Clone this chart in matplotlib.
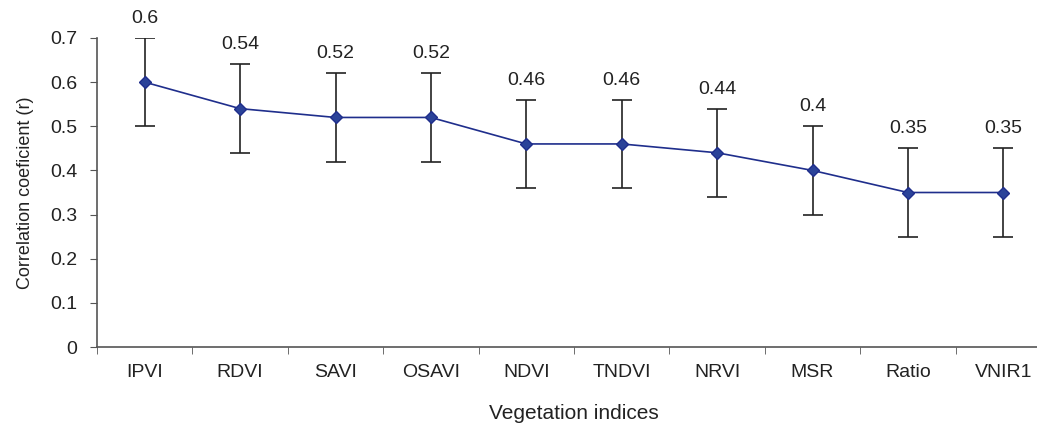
import matplotlib

matplotlib.use("Agg", force=True)
import matplotlib.pyplot as plt
import numpy as np

plt.rcParams["font.family"] = ["Liberation Sans", "DejaVu Sans"]

indices = ["IPVI", "RDVI", "SAVI", "OSAVI", "NDVI", "TNDVI", "NRVI", "MSR", "Ratio", "VNIR1"]
r_values = [0.6, 0.54, 0.52, 0.52, 0.46, 0.46, 0.44, 0.4, 0.35, 0.35]
r_errors = [0.1, 0.1, 0.1, 0.1, 0.1, 0.1, 0.1, 0.1, 0.1, 0.1]
value_labels = ["0.6", "0.54", "0.52", "0.52", "0.46", "0.46", "0.44", "0.4", "0.35", "0.35"]

fig = plt.figure(figsize=(10.37, 4.25), dpi=100)
ax = fig.add_axes([97 / 1037, 1 - 347 / 425, (1051 - 97) / 1037, (347 - 38) / 425])

x = np.arange(len(indices))
ax.errorbar(x, r_values, yerr=r_errors, fmt="none", ecolor="#222222", elinewidth=1.2,
            capsize=7, capthick=1.2, zorder=2)
ax.plot(x, r_values, color="#1F2E8C", lw=1.2, marker="D", markersize=6.5,
        markerfacecolor="#2B4399", markeredgecolor="#1F2E8C", zorder=3)

for xi, v, e, lab in zip(x, r_values, r_errors, value_labels):
    ax.annotate(lab, (xi, v + e), xytext=(0, 8), textcoords="offset points",
                ha="center", va="bottom", fontsize=14, color="#222222")

ax.set_xlim(-0.5, len(indices) - 0.5)
ax.set_ylim(0, 0.7)
ax.set_yticks(np.arange(0, 0.71, 0.1))
ax.set_yticklabels(["0", "0.1", "0.2", "0.3", "0.4", "0.5", "0.6", "0.7"])
ax.set_xticks(x)
ax.set_xticklabels(indices)
ax.set_xticks(np.arange(-0.5, len(indices), 1.0), minor=True)
ax.tick_params(axis="x", which="major", length=0, pad=12, labelsize=14, colors="#222222")
ax.tick_params(axis="x", which="minor", length=5, direction="out", color="#555555")
ax.tick_params(axis="y", length=5, direction="out", color="#555555", labelsize=14,
               labelcolor="#222222", pad=9)

for side in ["top", "right"]:
    ax.spines[side].set_visible(False)
for side in ["left", "bottom"]:
    ax.spines[side].set_color("#555555")
    ax.spines[side].set_linewidth(1.2)

ax.set_ylabel("Correlation coeficient (r)", fontsize=13, color="#222222", labelpad=12)
ax.set_xlabel("Vegetation indices", fontsize=15, color="#222222", labelpad=17)

fig.savefig("out.png", dpi=100)
